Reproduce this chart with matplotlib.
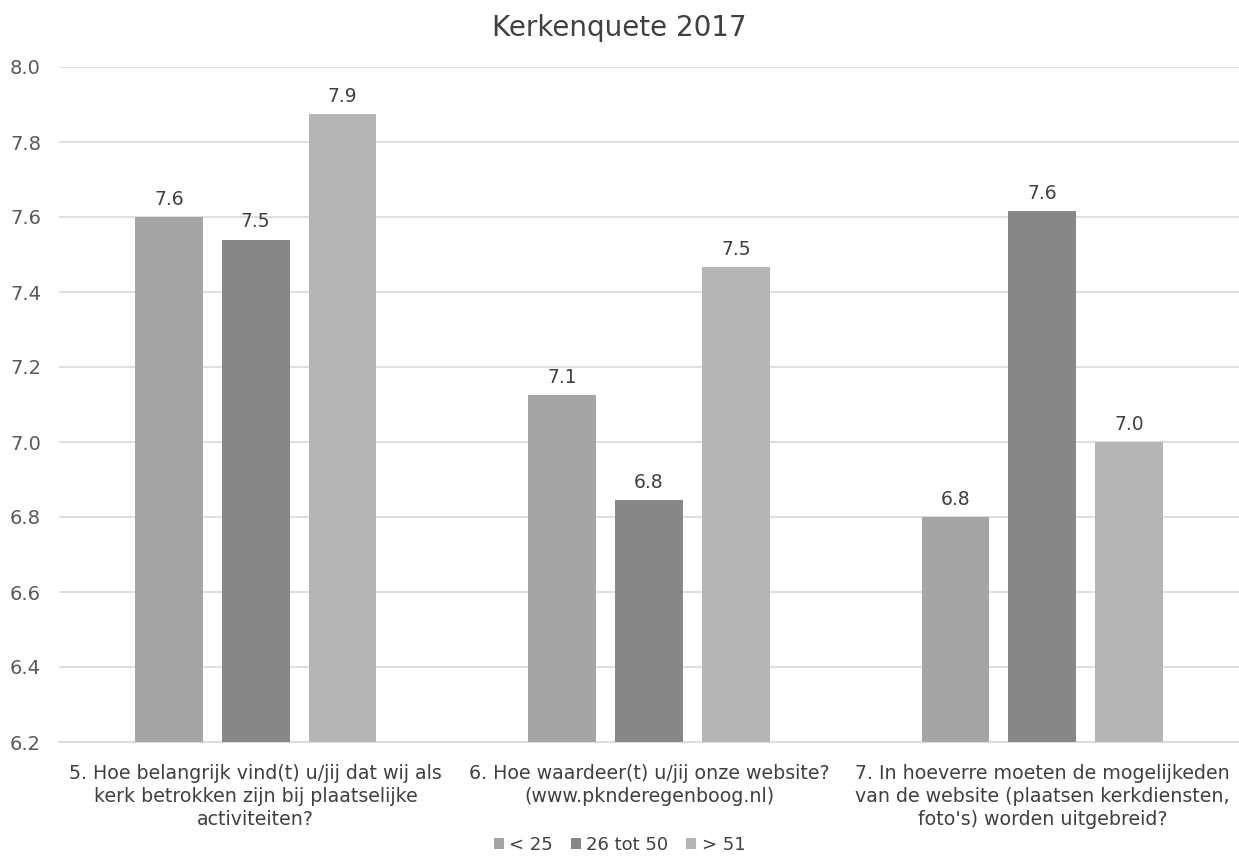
import matplotlib
matplotlib.use("Agg")
import matplotlib.pyplot as plt
import numpy as np

plt.rcParams['font.family'] = ['DejaVu Sans']

categories = [
    "5. Hoe belangrijk vind(t) u/jij dat wij als\nkerk betrokken zijn bij plaatselijke\nactiviteiten?",
    "6. Hoe waardeer(t) u/jij onze website?\n(www.pknderegenboog.nl)",
    "7. In hoeverre moeten de mogelijkeden\nvan de website (plaatsen kerkdiensten,\nfoto's) worden uitgebreid?",
]
series_names = ["< 25", "26 tot 50", "> 51"]
s_lt25 = [7.60, 7.125, 6.80]
s_26_50 = [7.54, 6.845, 7.615]
s_gt51 = [7.875, 7.467, 7.00]
series = [s_lt25, s_26_50, s_gt51]
colors = ["#a5a5a5", "#878787", "#b5b5b5"]
yticks = [6.2, 6.4, 6.6, 6.8, 7.0, 7.2, 7.4, 7.6, 7.8, 8.0]

fig = plt.figure(figsize=(12.39, 8.61), dpi=100)
ax = fig.add_axes([59/1239, 1-742/861, 1180/1239, 675/861])

x = np.arange(len(categories))
w = 0.1726
step = 0.2208
for i, (vals, name, c) in enumerate(zip(series, series_names, colors)):
    pos = x + (i - 1) * step
    ax.bar(pos, vals, width=w, color=c, label=name, zorder=3)
    for xp, v in zip(pos, vals):
        ax.text(xp, v + 0.022, f"{v:.1f}", ha="center", va="bottom",
                fontsize=13.5, color="#404040")

ax.set_ylim(6.2, 8.0)
ax.set_xlim(-0.5, 2.5)
ax.set_yticks(yticks)
ax.set_yticklabels([f"{t:.1f}" for t in yticks], fontsize=14, color="#595959")
ax.set_xticks(x)
ax.set_xticklabels(categories, fontsize=13.7, color="#404040", linespacing=1.27)
ax.tick_params(axis="both", length=0)
ax.tick_params(axis="x", pad=16)
ax.tick_params(axis="y", pad=13)
ax.grid(axis="y", color="#d9d9d9", linewidth=1.2, zorder=0)
for s in ["top", "right", "left"]:
    ax.spines[s].set_visible(False)
ax.spines["bottom"].set_color("#d9d9d9")
ax.spines["bottom"].set_linewidth(1.2)

fig.text(0.5, 1-28/861, "Kerkenquete 2017", ha="center", va="center",
         fontsize=20, color="#404040")
fig.legend(loc="center", bbox_to_anchor=(0.5, 1-845/861), ncol=3, frameon=False,
           fontsize=13, handlelength=0.55, handleheight=0.55, handletextpad=0.3,
           columnspacing=1.0, labelcolor="#404040")

fig.savefig("out.png", dpi=100)
